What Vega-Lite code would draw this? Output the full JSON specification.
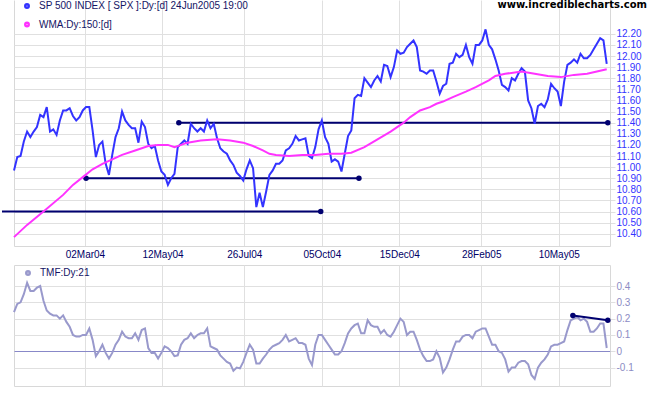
{
"$schema":"https://vega.github.io/schema/vega-lite/v6.json",
"background":"white",
"padding":{"left":0,"top":0,"right":0,"bottom":0},
"autosize":{"type":"pad"},
"config":{"font":"Liberation Sans","view":{"stroke":"#d8d8d8"},"axis":{"gridColor":"#e0e0e0","domainColor":"#d8d8d8","tickColor":"#e0e0e0","labelFont":"Liberation Sans","labelFontSize":10,"title":null,"labelOverlap":false}},
"bounds":"flush",
"spacing":19,
"resolve":{"scale":{"color":"independent"},"legend":{"color":"independent"}},
"datasets":{
"spx":[
{"d":"2003-12-28","v":10.97},{"d":"2003-12-31","v":11.09},{"d":"2004-01-03","v":11.10},{"d":"2004-01-06","v":11.23},{"d":"2004-01-09","v":11.32},{"d":"2004-01-12","v":11.27},{"d":"2004-01-15","v":11.32},{"d":"2004-01-18","v":11.36},{"d":"2004-01-21","v":11.47},{"d":"2004-01-24","v":11.45},
{"d":"2004-01-27","v":11.54},{"d":"2004-01-30","v":11.32},{"d":"2004-02-02","v":11.34},{"d":"2004-02-05","v":11.29},{"d":"2004-02-08","v":11.42},{"d":"2004-02-11","v":11.51},{"d":"2004-02-14","v":11.51},{"d":"2004-02-17","v":11.53},{"d":"2004-02-20","v":11.46},{"d":"2004-02-23","v":11.42},
{"d":"2004-02-26","v":11.45},{"d":"2004-02-29","v":11.51},{"d":"2004-03-03","v":11.54},{"d":"2004-03-06","v":11.54},{"d":"2004-03-09","v":11.33},{"d":"2004-03-12","v":11.09},{"d":"2004-03-15","v":11.20},{"d":"2004-03-18","v":11.23},{"d":"2004-03-21","v":11.03},{"d":"2004-03-24","v":10.93},
{"d":"2004-03-27","v":11.11},{"d":"2004-03-30","v":11.27},{"d":"2004-04-02","v":11.35},{"d":"2004-04-05","v":11.50},{"d":"2004-04-08","v":11.42},{"d":"2004-04-11","v":11.38},{"d":"2004-04-14","v":11.35},{"d":"2004-04-17","v":11.35},{"d":"2004-04-20","v":11.22},{"d":"2004-04-23","v":11.41},
{"d":"2004-04-26","v":11.36},{"d":"2004-04-29","v":11.21},{"d":"2004-05-02","v":11.17},{"d":"2004-05-05","v":11.19},{"d":"2004-05-08","v":11.06},{"d":"2004-05-11","v":10.96},{"d":"2004-05-14","v":10.93},{"d":"2004-05-17","v":10.84},{"d":"2004-05-20","v":10.90},{"d":"2004-05-23","v":10.94},
{"d":"2004-05-26","v":11.18},{"d":"2004-05-29","v":11.21},{"d":"2004-06-01","v":11.24},{"d":"2004-06-04","v":11.21},{"d":"2004-06-07","v":11.39},{"d":"2004-06-10","v":11.35},{"d":"2004-06-13","v":11.32},{"d":"2004-06-16","v":11.35},{"d":"2004-06-19","v":11.32},{"d":"2004-06-22","v":11.42},
{"d":"2004-06-25","v":11.35},{"d":"2004-06-28","v":11.39},{"d":"2004-07-01","v":11.26},{"d":"2004-07-04","v":11.17},{"d":"2004-07-07","v":11.14},{"d":"2004-07-10","v":11.12},{"d":"2004-07-13","v":11.06},{"d":"2004-07-16","v":11.02},{"d":"2004-07-19","v":10.95},{"d":"2004-07-22","v":10.92},
{"d":"2004-07-25","v":10.88},{"d":"2004-07-28","v":10.98},{"d":"2004-07-31","v":11.06},{"d":"2004-08-03","v":10.99},{"d":"2004-08-06","v":10.64},{"d":"2004-08-09","v":10.77},{"d":"2004-08-12","v":10.64},{"d":"2004-08-15","v":10.78},{"d":"2004-08-18","v":10.93},{"d":"2004-08-21","v":10.97},
{"d":"2004-08-24","v":11.03},{"d":"2004-08-27","v":11.03},{"d":"2004-08-30","v":11.06},{"d":"2004-09-02","v":11.15},{"d":"2004-09-05","v":11.17},{"d":"2004-09-08","v":11.21},{"d":"2004-09-11","v":11.28},{"d":"2004-09-14","v":11.24},{"d":"2004-09-17","v":11.25},{"d":"2004-09-20","v":11.26},
{"d":"2004-09-23","v":11.10},{"d":"2004-09-26","v":11.08},{"d":"2004-09-29","v":11.18},{"d":"2004-10-02","v":11.34},{"d":"2004-10-05","v":11.42},{"d":"2004-10-08","v":11.27},{"d":"2004-10-11","v":11.21},{"d":"2004-10-14","v":11.05},{"d":"2004-10-17","v":11.07},{"d":"2004-10-20","v":11.05},
{"d":"2004-10-23","v":10.96},{"d":"2004-10-26","v":11.12},{"d":"2004-10-29","v":11.28},{"d":"2004-11-01","v":11.33},{"d":"2004-11-04","v":11.62},{"d":"2004-11-07","v":11.65},{"d":"2004-11-10","v":11.64},{"d":"2004-11-13","v":11.80},{"d":"2004-11-16","v":11.76},{"d":"2004-11-19","v":11.72},
{"d":"2004-11-22","v":11.78},{"d":"2004-11-25","v":11.82},{"d":"2004-11-28","v":11.77},{"d":"2004-12-01","v":11.92},{"d":"2004-12-04","v":11.91},{"d":"2004-12-07","v":11.81},{"d":"2004-12-10","v":11.90},{"d":"2004-12-13","v":12.05},{"d":"2004-12-16","v":12.02},{"d":"2004-12-19","v":12.03},
{"d":"2004-12-22","v":12.08},{"d":"2004-12-25","v":12.11},{"d":"2004-12-28","v":12.14},{"d":"2004-12-31","v":12.08},{"d":"2005-01-03","v":11.87},{"d":"2005-01-06","v":11.86},{"d":"2005-01-09","v":11.84},{"d":"2005-01-12","v":11.87},{"d":"2005-01-15","v":11.87},{"d":"2005-01-18","v":11.77},
{"d":"2005-01-21","v":11.66},{"d":"2005-01-24","v":11.73},{"d":"2005-01-27","v":11.75},{"d":"2005-01-30","v":11.93},{"d":"2005-02-02","v":11.94},{"d":"2005-02-05","v":12.02},{"d":"2005-02-08","v":11.99},{"d":"2005-02-11","v":12.01},{"d":"2005-02-14","v":12.10},{"d":"2005-02-17","v":11.99},
{"d":"2005-02-20","v":11.93},{"d":"2005-02-23","v":12.10},{"d":"2005-02-26","v":12.10},{"d":"2005-03-01","v":12.14},{"d":"2005-03-04","v":12.24},{"d":"2005-03-07","v":12.10},{"d":"2005-03-10","v":12.06},{"d":"2005-03-13","v":11.97},{"d":"2005-03-16","v":11.87},{"d":"2005-03-19","v":11.74},
{"d":"2005-03-22","v":11.72},{"d":"2005-03-25","v":11.69},{"d":"2005-03-28","v":11.80},{"d":"2005-03-31","v":11.78},{"d":"2005-04-03","v":11.84},{"d":"2005-04-06","v":11.89},{"d":"2005-04-09","v":11.86},{"d":"2005-04-12","v":11.60},{"d":"2005-04-15","v":11.53},{"d":"2005-04-18","v":11.39},
{"d":"2005-04-21","v":11.55},{"d":"2005-04-24","v":11.57},{"d":"2005-04-27","v":11.54},{"d":"2005-04-30","v":11.61},{"d":"2005-05-03","v":11.75},{"d":"2005-05-06","v":11.71},{"d":"2005-05-09","v":11.68},{"d":"2005-05-12","v":11.55},{"d":"2005-05-15","v":11.77},{"d":"2005-05-18","v":11.92},
{"d":"2005-05-21","v":11.94},{"d":"2005-05-24","v":11.97},{"d":"2005-05-27","v":11.94},{"d":"2005-05-30","v":12.02},{"d":"2005-06-02","v":11.98},{"d":"2005-06-05","v":11.98},{"d":"2005-06-08","v":12.01},{"d":"2005-06-11","v":12.06},{"d":"2005-06-14","v":12.11},{"d":"2005-06-17","v":12.16},
{"d":"2005-06-20","v":12.14},{"d":"2005-06-23","v":11.93}
],
"tmf":[
{"d":"2003-12-28","v":0.24},{"d":"2003-12-31","v":0.29},{"d":"2004-01-03","v":0.30},{"d":"2004-01-06","v":0.35},{"d":"2004-01-09","v":0.42},{"d":"2004-01-12","v":0.37},{"d":"2004-01-15","v":0.37},{"d":"2004-01-18","v":0.39},{"d":"2004-01-21","v":0.40},{"d":"2004-01-24","v":0.31},
{"d":"2004-01-27","v":0.25},{"d":"2004-01-30","v":0.23},{"d":"2004-02-02","v":0.22},{"d":"2004-02-05","v":0.22},{"d":"2004-02-08","v":0.20},{"d":"2004-02-11","v":0.22},{"d":"2004-02-14","v":0.18},{"d":"2004-02-17","v":0.15},{"d":"2004-02-20","v":0.10},{"d":"2004-02-23","v":0.09},
{"d":"2004-02-26","v":0.09},{"d":"2004-02-29","v":0.10},{"d":"2004-03-03","v":0.10},{"d":"2004-03-06","v":0.14},{"d":"2004-03-09","v":0.07},{"d":"2004-03-12","v":-0.03},{"d":"2004-03-15","v":0.00},{"d":"2004-03-18","v":0.04},{"d":"2004-03-21","v":-0.01},{"d":"2004-03-24","v":-0.045},
{"d":"2004-03-27","v":-0.01},{"d":"2004-03-30","v":0.04},{"d":"2004-04-02","v":0.07},{"d":"2004-04-05","v":0.12},{"d":"2004-04-08","v":0.09},{"d":"2004-04-11","v":0.08},{"d":"2004-04-14","v":0.08},{"d":"2004-04-17","v":0.11},{"d":"2004-04-20","v":0.07},{"d":"2004-04-23","v":0.13},
{"d":"2004-04-26","v":0.14},{"d":"2004-04-29","v":0.02},{"d":"2004-05-02","v":-0.01},{"d":"2004-05-05","v":-0.01},{"d":"2004-05-08","v":-0.045},{"d":"2004-05-11","v":-0.01},{"d":"2004-05-14","v":0.03},{"d":"2004-05-17","v":0.02},{"d":"2004-05-20","v":0.00},{"d":"2004-05-23","v":-0.03},
{"d":"2004-05-26","v":-0.025},{"d":"2004-05-29","v":0.04},{"d":"2004-06-01","v":0.07},{"d":"2004-06-04","v":0.08},{"d":"2004-06-07","v":0.11},{"d":"2004-06-10","v":0.08},{"d":"2004-06-13","v":0.10},{"d":"2004-06-16","v":0.11},{"d":"2004-06-19","v":0.11},{"d":"2004-06-22","v":0.14},
{"d":"2004-06-25","v":0.03},{"d":"2004-06-28","v":0.02},{"d":"2004-07-01","v":0.01},{"d":"2004-07-04","v":-0.025},{"d":"2004-07-07","v":-0.045},{"d":"2004-07-10","v":-0.065},{"d":"2004-07-13","v":-0.075},{"d":"2004-07-16","v":-0.12},{"d":"2004-07-19","v":-0.10},{"d":"2004-07-22","v":-0.105},
{"d":"2004-07-25","v":-0.065},{"d":"2004-07-28","v":-0.01},{"d":"2004-07-31","v":0.04},{"d":"2004-08-03","v":0.01},{"d":"2004-08-06","v":-0.075},{"d":"2004-08-09","v":-0.075},{"d":"2004-08-12","v":-0.045},{"d":"2004-08-15","v":-0.02},{"d":"2004-08-18","v":0.01},{"d":"2004-08-21","v":0.03},
{"d":"2004-08-24","v":0.04},{"d":"2004-08-27","v":0.05},{"d":"2004-08-30","v":0.07},{"d":"2004-09-02","v":0.10},{"d":"2004-09-05","v":0.06},{"d":"2004-09-08","v":0.07},{"d":"2004-09-11","v":0.08},{"d":"2004-09-14","v":0.05},{"d":"2004-09-17","v":0.05},{"d":"2004-09-20","v":0.04},
{"d":"2004-09-23","v":-0.045},{"d":"2004-09-26","v":-0.085},{"d":"2004-09-29","v":0.04},{"d":"2004-10-02","v":0.10},{"d":"2004-10-05","v":0.10},{"d":"2004-10-08","v":0.07},{"d":"2004-10-11","v":0.04},{"d":"2004-10-14","v":0.01},{"d":"2004-10-17","v":-0.02},{"d":"2004-10-20","v":-0.02},
{"d":"2004-10-23","v":0.00},{"d":"2004-10-26","v":0.05},{"d":"2004-10-29","v":0.11},{"d":"2004-11-01","v":0.14},{"d":"2004-11-04","v":0.16},{"d":"2004-11-07","v":0.17},{"d":"2004-11-10","v":0.11},{"d":"2004-11-13","v":0.11},{"d":"2004-11-16","v":0.19},{"d":"2004-11-19","v":0.16},
{"d":"2004-11-22","v":0.15},{"d":"2004-11-25","v":0.15},{"d":"2004-11-28","v":0.11},{"d":"2004-12-01","v":0.13},{"d":"2004-12-04","v":0.10},{"d":"2004-12-07","v":0.09},{"d":"2004-12-10","v":0.12},{"d":"2004-12-13","v":0.16},{"d":"2004-12-16","v":0.20},{"d":"2004-12-19","v":0.18},
{"d":"2004-12-22","v":0.10},{"d":"2004-12-25","v":0.12},{"d":"2004-12-28","v":0.12},{"d":"2004-12-31","v":0.07},{"d":"2005-01-03","v":0.01},{"d":"2005-01-06","v":-0.03},{"d":"2005-01-09","v":-0.06},{"d":"2005-01-12","v":-0.06},{"d":"2005-01-15","v":-0.05},{"d":"2005-01-18","v":0.00},
{"d":"2005-01-21","v":-0.04},{"d":"2005-01-24","v":-0.13},{"d":"2005-01-27","v":-0.10},{"d":"2005-01-30","v":-0.05},{"d":"2005-02-02","v":0.01},{"d":"2005-02-05","v":0.06},{"d":"2005-02-08","v":0.06},{"d":"2005-02-11","v":0.09},{"d":"2005-02-14","v":0.10},{"d":"2005-02-17","v":0.10},
{"d":"2005-02-20","v":0.08},{"d":"2005-02-23","v":0.12},{"d":"2005-02-26","v":0.13},{"d":"2005-03-01","v":0.14},{"d":"2005-03-04","v":0.14},{"d":"2005-03-07","v":0.09},{"d":"2005-03-10","v":0.04},{"d":"2005-03-13","v":0.04},{"d":"2005-03-16","v":0.00},{"d":"2005-03-19","v":-0.01},
{"d":"2005-03-22","v":-0.05},{"d":"2005-03-25","v":-0.125},{"d":"2005-03-28","v":-0.10},{"d":"2005-03-31","v":-0.10},{"d":"2005-04-03","v":-0.07},{"d":"2005-04-06","v":-0.06},{"d":"2005-04-09","v":-0.06},{"d":"2005-04-12","v":-0.08},{"d":"2005-04-15","v":-0.145},{"d":"2005-04-18","v":-0.17},
{"d":"2005-04-21","v":-0.10},{"d":"2005-04-24","v":-0.07},{"d":"2005-04-27","v":-0.05},{"d":"2005-04-30","v":-0.02},{"d":"2005-05-03","v":0.03},{"d":"2005-05-06","v":0.04},{"d":"2005-05-09","v":0.04},{"d":"2005-05-12","v":0.05},{"d":"2005-05-15","v":0.06},{"d":"2005-05-18","v":0.13},
{"d":"2005-05-21","v":0.19},{"d":"2005-05-24","v":0.20},{"d":"2005-05-27","v":0.21},{"d":"2005-05-30","v":0.19},{"d":"2005-06-02","v":0.20},{"d":"2005-06-05","v":0.18},{"d":"2005-06-08","v":0.12},{"d":"2005-06-11","v":0.12},{"d":"2005-06-14","v":0.14},{"d":"2005-06-17","v":0.17},
{"d":"2005-06-20","v":0.17},{"d":"2005-06-23","v":0.02}
],
"wma":[
{"d":"2003-12-28","v":10.37},{"d":"2004-01-09","v":10.48},{"d":"2004-01-24","v":10.60},{"d":"2004-02-11","v":10.75},{"d":"2004-02-20","v":10.84},{"d":"2004-02-29","v":10.91},{"d":"2004-03-09","v":10.98},{"d":"2004-03-18","v":11.03},{"d":"2004-03-27","v":11.07},{"d":"2004-04-05","v":11.11},{"d":"2004-04-17","v":11.15},{"d":"2004-04-29","v":11.19},{"d":"2004-05-08","v":11.20},{"d":"2004-05-17","v":11.20},{"d":"2004-05-23","v":11.18},{"d":"2004-06-04","v":11.22},{"d":"2004-06-16","v":11.24},{"d":"2004-07-01","v":11.25},{"d":"2004-07-13","v":11.24},{"d":"2004-07-25","v":11.22},{"d":"2004-08-03","v":11.19},{"d":"2004-08-12","v":11.15},{"d":"2004-08-18","v":11.12},{"d":"2004-08-24","v":11.11},{"d":"2004-09-05","v":11.10},{"d":"2004-09-17","v":11.11},{"d":"2004-09-29","v":11.11},{"d":"2004-10-11","v":11.12},{"d":"2004-10-23","v":11.12},{"d":"2004-11-01","v":11.13},{"d":"2004-11-13","v":11.18},{"d":"2004-11-25","v":11.25},{"d":"2004-12-07","v":11.32},{"d":"2004-12-19","v":11.40},{"d":"2004-12-25","v":11.45},{"d":"2005-01-03","v":11.51},{"d":"2005-01-12","v":11.54},{"d":"2005-01-18","v":11.57},{"d":"2005-01-24","v":11.59},{"d":"2005-02-02","v":11.63},{"d":"2005-02-14","v":11.68},{"d":"2005-02-23","v":11.72},{"d":"2005-03-07","v":11.78},{"d":"2005-03-13","v":11.82},{"d":"2005-03-22","v":11.84},{"d":"2005-04-06","v":11.86},{"d":"2005-04-18","v":11.84},{"d":"2005-04-30","v":11.82},{"d":"2005-05-12","v":11.81},{"d":"2005-05-24","v":11.83},{"d":"2005-06-05","v":11.84},{"d":"2005-06-14","v":11.86},{"d":"2005-06-23","v":11.88}
],
"levels":[{"d":"2004-05-27","d2":"2005-06-24","v":11.4},{"d":"2004-03-03","d2":"2004-11-08","v":10.9},{"d":"2003-12-17","d2":"2004-10-04","v":10.6}],
"pivots":[{"d":"2004-05-27","v":11.4},{"d":"2005-06-24","v":11.4},{"d":"2004-03-03","v":10.9},{"d":"2004-11-08","v":10.9},{"d":"2004-10-04","v":10.6}],
"tmftrend":[{"d":"2005-05-23","v":0.22},{"d":"2005-06-24","v":0.19}]
},
"vconcat":[
{
"width":596,"height":246,
"view":{"stroke":null},
"title":{"text":"www.incrediblecharts.com","anchor":"end","frame":"group","orient":"top","offset":-10,"dx":37,"font":"DejaVu Sans","fontSize":10,"fontWeight":"bold","color":"black"},
"encoding":{
"x":{"field":"d","type":"temporal","scale":{"type":"utc","domain":[{"year":2003,"month":12,"date":28,"utc":true},{"year":2005,"month":6,"date":26,"utc":true}],"nice":false},
"axis":{"values":[{"year":2003,"month":12,"date":28,"utc":true},{"year":2004,"month":3,"date":2,"utc":true},{"year":2004,"month":5,"date":12,"utc":true},{"year":2004,"month":7,"date":26,"utc":true},{"year":2004,"month":10,"date":5,"utc":true},{"year":2004,"month":12,"date":15,"utc":true},{"year":2005,"month":2,"date":28,"utc":true},{"year":2005,"month":5,"date":10,"utc":true}],
"labelExpr":"datum.value < utc(2004,0,10) ? '' : utcFormat(datum.value, '%d%b%y')","labelColor":"#000066","labelFontSize":10,"ticks":false,"labelPadding":3,"grid":true,"gridColor":{"condition":{"test":"datum.value < utc(2004,0,10)","value":"#d8d8d8"},"value":"#e0e0e0"},"domain":true,"labelFlush":false,"labelOverlap":false}},
"y":{"field":"v","type":"quantitative","scale":{"domain":[10.29,12.504],"zero":false,"nice":false},
"axis":{"orient":"right","values":[10.4,10.5,10.6,10.7,10.8,10.9,11.0,11.1,11.2,11.3,11.4,11.5,11.6,11.7,11.8,11.9,12.0,12.1,12.2],"labelExpr":"format(datum.value, '.2f')","labelColor":"#3333ff","labelFontSize":10,"tickSize":5,"labelPadding":1,"grid":true,"domain":true,"labelOverlap":false,"labelSeparation":0}}
},
"layer":[
{"data":{"name":"levels"},"mark":{"type":"rule","color":"#000070","strokeWidth":2},"encoding":{"x2":{"field":"d2"}}},
{"data":{"name":"pivots"},"mark":{"type":"point","filled":true,"color":"#000070","size":30,"opacity":1}},
{"data":{"name":"spx"},"mark":{"type":"line","strokeWidth":2},
"encoding":{"color":{"datum":"SP 500 INDEX [ SPX ]:Dy:[d]  24Jun2005 19:00","type":"nominal","scale":{"domain":["SP 500 INDEX [ SPX ]:Dy:[d]  24Jun2005 19:00","WMA:Dy:150:[d]"],"range":["#3333ff","#ff33ff"]},
"legend":{"orient":"none","legendX":8,"legendY":1,"title":null,"symbolType":"circle","symbolSize":6,"symbolStrokeWidth":3.5,"labelFont":"Liberation Sans","labelFontSize":10,"labelColor":"#141464","labelOffset":7,"rowPadding":0.5,"padding":0,"labelLimit":400}}}},
{"data":{"name":"wma"},"mark":{"type":"line","strokeWidth":2},"encoding":{"color":{"datum":"WMA:Dy:150:[d]","type":"nominal"}}}
]
},
{
"width":596,"height":121,
"encoding":{
"x":{"field":"d","type":"temporal","scale":{"type":"utc","domain":[{"year":2003,"month":12,"date":28,"utc":true},{"year":2005,"month":6,"date":26,"utc":true}],"nice":false},
"axis":{"values":[{"year":2004,"month":3,"date":2,"utc":true},{"year":2004,"month":5,"date":12,"utc":true},{"year":2004,"month":7,"date":26,"utc":true},{"year":2004,"month":10,"date":5,"utc":true},{"year":2004,"month":12,"date":15,"utc":true},{"year":2005,"month":2,"date":28,"utc":true},{"year":2005,"month":5,"date":10,"utc":true}],"labels":false,"ticks":false,"domain":false,"grid":true}},
"y":{"field":"v","type":"quantitative","scale":{"domain":[-0.213,0.529],"zero":false,"nice":false},
"axis":{"orient":"right","values":[-0.1,0,0.1,0.2,0.3,0.4],"labelExpr":"datum.value < 0 ? '-' + format(-datum.value, '.1~f') : format(datum.value, '.1~f')","labelColor":"#8c8cc4","labelFontSize":10,"tickSize":5,"labelPadding":1,"grid":true,"gridColor":{"condition":{"test":"datum.value == 0","value":"#8888c8"},"value":"#e0e0e0"},"domain":false,"labelOverlap":false,"labelSeparation":0}}
},
"layer":[
{"data":{"name":"tmf"},"mark":{"type":"line","strokeWidth":2,"color":"#9999cc"},
"encoding":{"color":{"datum":"TMF:Dy:21","type":"nominal","scale":{"domain":["TMF:Dy:21"],"range":["#9999cc"]},
"legend":{"orient":"none","legendX":9,"legendY":3,"title":null,"symbolType":"circle","symbolSize":6,"symbolStrokeWidth":3.5,"labelFont":"Liberation Sans","labelFontSize":10,"labelColor":"#141464","labelOffset":7,"padding":0}}}},
{"data":{"name":"tmftrend"},"mark":{"type":"line","strokeWidth":2,"color":"#000070"}},
{"data":{"name":"tmftrend"},"mark":{"type":"point","filled":true,"color":"#000070","size":30,"opacity":1}}
]
}
]
}
